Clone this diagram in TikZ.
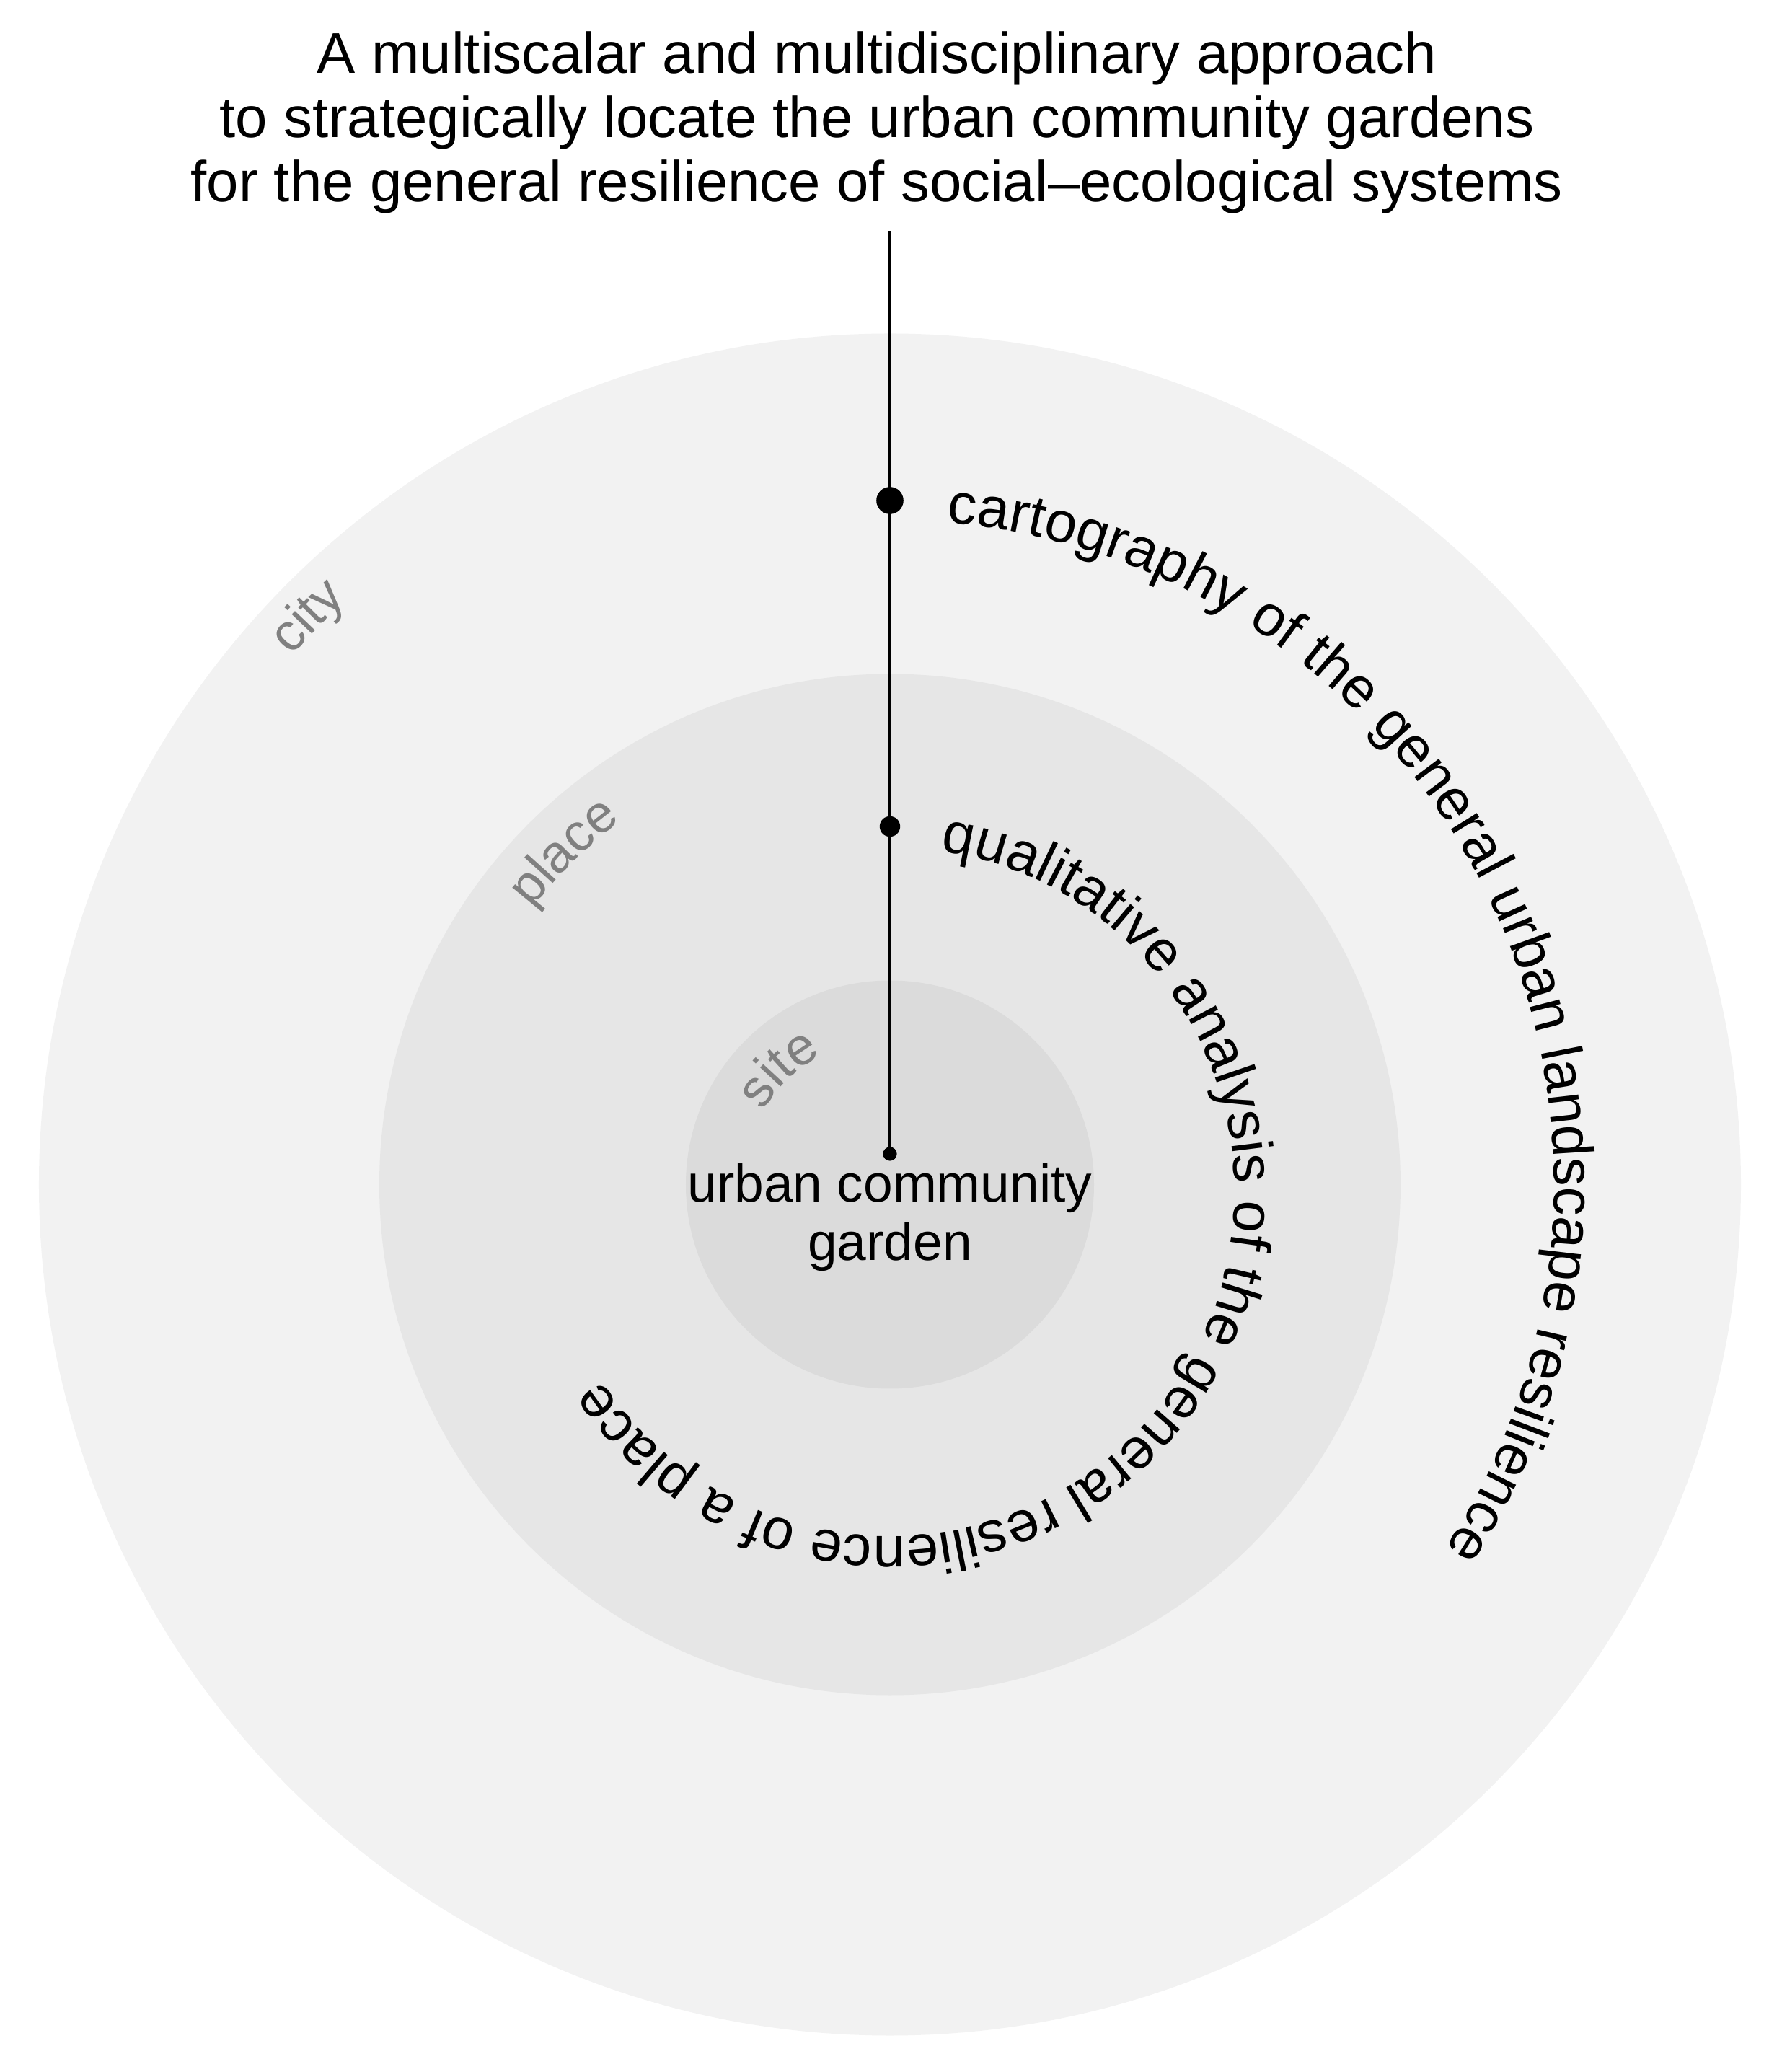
\documentclass[tikz,border=0pt]{standalone}
\usepackage{fontspec}
\setmainfont{Liberation Sans}
\usepackage{tikz}
\usetikzlibrary{
  decorations.text
}
\definecolor{citygray}{HTML}{F2F2F2}
\definecolor{placegray}{HTML}{E6E6E6}
\definecolor{sitegray}{HTML}{DBDBDB}
\definecolor{labelgray}{HTML}{808080}

\begin{document}
\begin{tikzpicture}[
	ring/.style={circle, inner sep=0pt, fill=#1},
	dot/.style={circle, fill=black, inner sep=0pt, minimum size=#1},
	arc text/.style={decorate, decoration={text along path, text align=left,
		text={|\fontsize{22.7}{25}\selectfont|#1}}},
	scale label/.style={decorate, decoration={text along path, text align=center,
		text color=labelgray, text={|\fontsize{20.8}{23}\selectfont|#1}}}
]
	    \useasboundingbox (-12.34,-12.305) rectangle (12.36,16.425);

	    % the three scales, biggest first
	    \node[ring=citygray, minimum size=23.6cm] (city) at (0,0) {};
	    \node[ring=placegray, minimum size=14.16cm] (place) at (0,0) {};
	    \node[ring=sitegray, minimum size=5.66cm] (site) at (0,0) {};

	    \path[scale label=city] (165.7:11.07) arc[start angle=165.7, end angle=105.7, radius=11.07];
	    \path[scale label=place] (164.4:6.27) arc[start angle=164.4, end angle=104.4, radius=6.27];
	    \path[scale label=site] (173.8:2.03) arc[start angle=173.8, end angle=93.8, radius=2.03];

	    \node[dot=0.376cm] (cartodot) at (0,9.485) {};
	    \node[dot=0.284cm] (qualidot) at (0,4.965) {};
	    \node[dot=0.192cm] (gardendot) at (0,0.425) {};

	    \node[anchor=south, align=center, inner sep=0pt, font=\fontsize{22.7}{25.3}\selectfont] (title) at (-0.18,13.457)
	        {A multiscalar and multidisciplinary approach\\to strategically locate the urban community gardens\\for the general resilience of social--ecological systems};
	    \coordinate (top) at (0,13.225);
	    \draw[line width=1.3pt] (top) -- (gardendot.center);

	    \node[anchor=south, align=center, inner sep=0pt, font=\fontsize{20.8}{23.1}\selectfont] (garden) at (0,-1.212)
	        {urban community\\garden};

	    % text running clockwise round the rings
	    \path[arc text=cartography of the general urban landscape resilience]
	        (85.1:9.21) arc[start angle=85.1, end angle=-60, radius=9.21];
	    \path[arc text=qualitative analysis of the general resilience of a place]
	        ([shift={(0,-0.1)}]81.6:4.78) arc[start angle=81.6, end angle=-200, radius=4.78];

	\end{tikzpicture}
\end{document}
